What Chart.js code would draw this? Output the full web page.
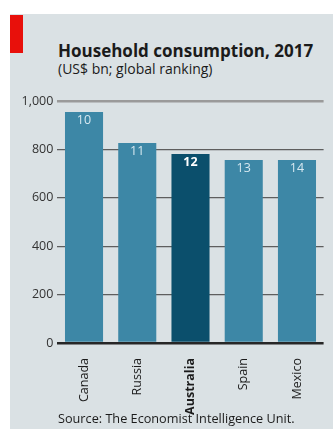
<!DOCTYPE html>
<html>
<head>
<meta charset="utf-8">
<script src="https://cdn.jsdelivr.net/npm/chart.js@4"></script>
<style>
  html, body { margin: 0; padding: 0; background: #ffffff; }
  #wrap { position: relative; width: 336px; height: 431px; overflow: hidden; }
  #panel { position: absolute; left: 10px; top: 14px; width: 323px; height: 415px; background: #dae1e4; }
  #tag { position: absolute; left: 10px; top: 15px; width: 13px; height: 38px; background: #e8100b; }
  .txt { position: absolute; left: 58px; white-space: nowrap; line-height: 1; font-family: "Open Sans", sans-serif; color: #1b1b1b; }
  #title { top: 41.5px; font-size: 17px; font-weight: 700; }
  #subtitle { top: 61.5px; font-size: 14px; }
  #source { top: 412px; font-size: 12.7px; }
  #chart { position: absolute; left: 0; top: 0; }
</style>
</head>
<body>
<div id="wrap">
  <div id="panel"></div>
  <div id="tag"></div>
  <div class="txt" id="title">Household consumption, 2017</div>
  <div class="txt" id="subtitle">(US$ bn; global ranking)</div>
  <canvas id="chart" width="336" height="431"></canvas>
  <div class="txt" id="source">Source: The Economist Intelligence Unit.</div>
</div>
<script>
// Household consumption by country, US$ bn, with global ranking
const countries = ["Canada", "Russia", "Australia", "Spain", "Mexico"];
const consumption = [955, 826, 781, 756, 756];
const ranks = [10, 11, 12, 13, 14];
const highlight = "Australia";

const lightBar = "#3d87a6";
const darkBar = "#0b4f6c";

// Rank numbers written just inside the top of each bar
const rankLabels = {
  id: "rankLabels",
  afterDatasetsDraw(chart) {
    const ctx = chart.ctx;
    const meta = chart.getDatasetMeta(0);
    ctx.save();
    ctx.textAlign = "center";
    ctx.textBaseline = "middle";
    meta.data.forEach((bar, i) => {
      const strong = countries[i] === highlight;
      ctx.font = (strong ? "700 " : "400 ") + "12.5px 'Open Sans', sans-serif";
      ctx.fillStyle = strong ? "#ffffff" : "#d6e8f0";
      ctx.fillText(String(ranks[i]), bar.x, bar.y + 8.5);
    });
    ctx.restore();
  }
};

new Chart(document.getElementById("chart"), {
  type: "bar",
  data: {
    labels: countries,
    datasets: [{
      data: consumption,
      backgroundColor: countries.map(c => c === highlight ? darkBar : lightBar),
      borderWidth: 0,
      barPercentage: 0.715,
      categoryPercentage: 1
    }]
  },
  options: {
    responsive: false,
    devicePixelRatio: 1,
    animation: false,
    layout: { padding: { left: 0, right: 12.4, top: 101, bottom: 8 } },
    plugins: { legend: { display: false }, tooltip: { enabled: false } },
    scales: {
      x: {
        grid: { display: false },
        border: { display: false },
        afterFit(scale) { scale.height = 80; },
        ticks: {
          minRotation: 90,
          maxRotation: 90,
          padding: 7,
          color: "#1b1b1b",
          font: ctx => ({
            family: "'Open Sans', sans-serif",
            size: 12.5,
            weight: countries[ctx.index] === highlight ? "700" : "400"
          })
        }
      },
      y: {
        min: 0,
        max: 1000,
        afterFit(scale) { scale.width = 57.4; },
        border: { display: false },
        grid: {
          drawTicks: false,
          color: ctx => ctx.tick.value === 0 ? "#262626" : (ctx.tick.value === 1000 ? "#9a9a9a" : "#5e5e5e"),
          lineWidth: ctx => ctx.tick.value === 0 ? 2.5 : (ctx.tick.value === 1000 ? 2.5 : 1.3)
        },
        ticks: {
          stepSize: 200,
          padding: 4,
          color: "#333333",
          font: { family: "'Open Sans', sans-serif", size: 12.5 },
          callback: v => v.toLocaleString("en-US")
        }
      }
    }
  },
  plugins: [rankLabels]
});
</script>
</body>
</html>
